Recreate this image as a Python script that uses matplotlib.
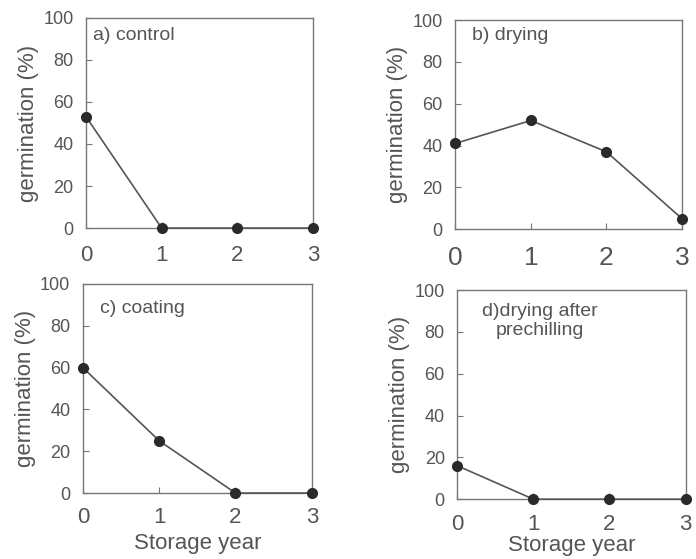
import matplotlib.pyplot as plt

plt.rcParams['font.family'] = ['Liberation Sans', 'DejaVu Sans']

years = [0, 1, 2, 3]
control = [53, 0, 0, 0]
drying = [41, 52, 37, 5]
coating = [60, 25, 0, 0]
prechill = [16, 0, 0, 0]
labels = ["a) control", "b) drying", "c) coating", "d)drying after\nprechilling"]

txt = "#555555"
line_c = "#555555"
dot_c = "#2a2a2a"

fig = plt.figure(figsize=(6.96, 5.59), dpi=100)
boxes = [
    [0.1236, 0.592, 0.326, 0.376],
    [0.654, 0.590, 0.326, 0.374],
    [0.119, 0.118, 0.329, 0.374],
    [0.657, 0.107, 0.328, 0.374],
]
series = [control, drying, coating, prechill]
xt_size = [16, 19, 16, 16]
xt_pad = [12, 12, 10, 11]
lab_pos = [(0.03, 0.955), (0.075, 0.965), (0.074, 0.925), (0.36, 0.94)]
xl_pad = [0, 0, 4, 0]

for i, (box, vals, lab) in enumerate(zip(boxes, series, labels)):
    ax = fig.add_axes(box)
    ax.plot(years, vals, color=line_c, lw=1.2, marker='o', ms=7,
            mfc=dot_c, mec=dot_c, clip_on=False, zorder=3)
    ax.set_xlim(0, 3)
    ax.set_ylim(0, 100)
    ax.set_xticks(years)
    ax.set_yticks([0, 20, 40, 60, 80, 100])
    ax.tick_params(direction='in', length=4, color='#777777', width=0.8)
    ax.tick_params(axis='y', labelsize=13, labelcolor=txt, pad=9)
    ax.tick_params(axis='x', labelsize=xt_size[i], labelcolor=txt, pad=xt_pad[i])
    for s in ax.spines.values():
        s.set_color('#777777')
        s.set_linewidth(1.0)
    ax.set_ylabel("germination (%)", fontsize=16, color=txt, labelpad=3)
    x0, y0 = lab_pos[i]
    if i == 3:
        ax.text(x0, y0, lab, transform=ax.transAxes, fontsize=14,
                color=txt, ha='center', va='top', linespacing=1.2)
    else:
        ax.text(x0, y0, lab, transform=ax.transAxes, fontsize=14,
                color=txt, ha='left', va='top')
    if i >= 2:
        ax.set_xlabel("Storage year", fontsize=16, color=txt, labelpad=xl_pad[i])

fig.savefig("out.png", dpi=100)
